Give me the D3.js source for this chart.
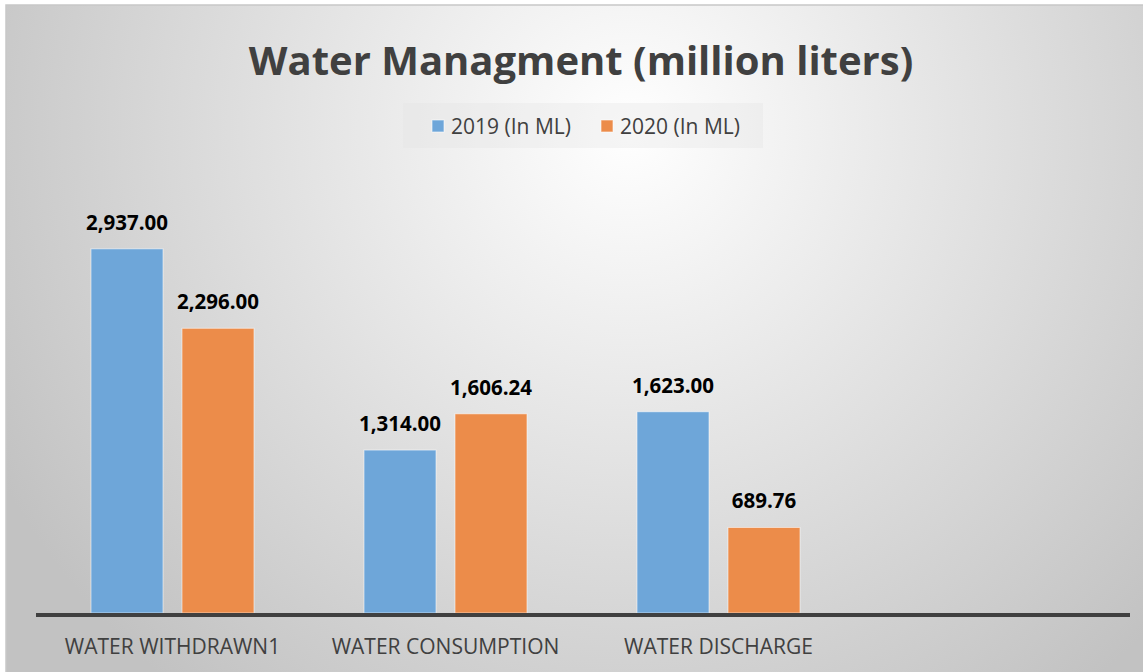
<!DOCTYPE html>
<html>
<head>
<meta charset="utf-8">
<script src="https://cdn.jsdelivr.net/npm/d3@7"></script>
<style>
  body { margin: 0; background: #fff; }
  svg { display: block; }
</style>
</head>
<body>
<svg id="chart" width="1143" height="672"></svg>
<script>
// dati del grafico
var categorie = ['WATER WITHDRAWN1', 'WATER CONSUMPTION', 'WATER DISCHARGE', ''];
var serie = ['2019 (In ML)', '2020 (In ML)'];
var valori2019 = [2937.00, 1314.00, 1623.00];
var valori2020 = [2296.00, 1606.24, 689.76];
var colori = ['#6ea6d9', '#ec8c4a'];

var svg = d3.select('#chart');
var width = 1143, height = 672;

// sfondo con gradiente radiale
var defs = svg.append('defs');
var grad = defs.append('radialGradient').attr('id', 'sfondo')
  .attr('gradientUnits', 'userSpaceOnUse')
  .attr('cx', 630).attr('cy', 130).attr('r', 720);
grad.append('stop').attr('offset', '0%').attr('stop-color', '#ffffff');
grad.append('stop').attr('offset', '100%').attr('stop-color', '#c2c2c2');

svg.append('rect')
  .attr('x', 6).attr('y', 5)
  .attr('width', width - 5).attr('height', height - 4)
  .attr('fill', 'url(#sfondo)')
  .attr('stroke', '#c8c8c8').attr('stroke-width', 1.5);

// scale
var x0 = d3.scaleBand().domain(categorie).range([36, 1128]).paddingInner(0.403).paddingOuter(0.2015);
var x1 = d3.scaleBand().domain(serie).range([0, x0.bandwidth()]).paddingInner(0.2088);
var y = d3.scaleLinear().domain([0, 3500]).range([613, 179]);

var fmt = d3.format(',.2f');

// titolo
svg.append('text')
  .attr('x', 581).attr('y', 75)
  .attr('text-anchor', 'middle')
  .attr('font-family', 'Open Sans')
  .attr('font-weight', 'bold')
  .attr('font-size', 40)
  .attr('fill', '#404040')
  .text('Water Managment (million liters)');

// legenda
var legenda = svg.append('g');
legenda.append('rect')
  .attr('x', 403).attr('y', 103).attr('width', 360).attr('height', 45)
  .attr('fill', 'rgba(225,225,225,0.3)');
var legX = [432, 601];
serie.forEach(function (s, i) {
  legenda.append('rect')
    .attr('x', legX[i]).attr('y', 120).attr('width', 12).attr('height', 12)
    .attr('fill', colori[i]).attr('stroke', 'rgba(255,255,255,0.6)');
  legenda.append('text')
    .attr('x', legX[i] + 19).attr('y', 134)
    .attr('font-family', 'Open Sans')
    .attr('font-size', 21)
    .attr('fill', '#404040')
    .text(s);
});

// barre
var dati = categorie.slice(0, 3).map(function (c, i) {
  return { cat: c, valori: [valori2019[i], valori2020[i]] };
});

var gruppi = svg.selectAll('.gruppo').data(dati).enter().append('g')
  .attr('class', 'gruppo')
  .attr('transform', function (d) { return 'translate(' + x0(d.cat) + ',0)'; });

gruppi.selectAll('rect').data(function (d) {
  return d.valori.map(function (v, i) { return { s: serie[i], v: v, i: i }; });
}).enter().append('rect')
  .attr('x', function (d) { return x1(d.s); })
  .attr('y', function (d) { return y(d.v); })
  .attr('width', x1.bandwidth())
  .attr('height', function (d) { return y(0) - y(d.v); })
  .attr('fill', function (d) { return colori[d.i]; })
  .attr('stroke', 'rgba(255,255,255,0.55)').attr('stroke-width', 1);

gruppi.selectAll('text').data(function (d) {
  return d.valori.map(function (v, i) { return { s: serie[i], v: v }; });
}).enter().append('text')
  .attr('x', function (d) { return x1(d.s) + x1.bandwidth() / 2; })
  .attr('y', function (d) { return y(d.v) - 19; })
  .attr('text-anchor', 'middle')
  .attr('font-family', 'Open Sans')
  .attr('font-weight', 'bold')
  .attr('font-size', 20.5)
  .attr('fill', '#000')
  .text(function (d) { return fmt(d.v); });

// asse x
var asse = svg.append('g').attr('transform', 'translate(0,' + 615 + ')')
  .call(d3.axisBottom(x0).tickSize(0).tickPadding(24));
asse.select('.domain').attr('stroke', '#404040').attr('stroke-width', 4)
  .attr('d', 'M' + (x0.range()[0]) + ',0H' + (x0.range()[1] + 2));
asse.selectAll('text')
  .attr('font-family', 'Open Sans')
  .attr('font-size', 21)
  .attr('fill', '#404040');
</script>
</body>
</html>
